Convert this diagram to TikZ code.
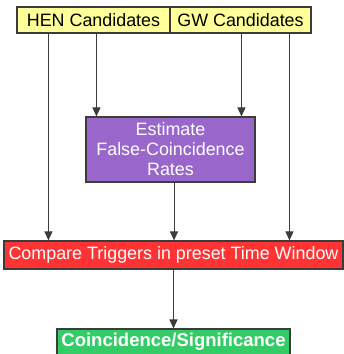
\documentclass[tikz,border=0pt]{standalone}
\usepackage{fontspec}
\setmainfont{Liberation Sans}
\usetikzlibrary{positioning,arrows.meta}

\definecolor{candfill}{RGB}{255,255,153}
\definecolor{estfill}{RGB}{153,102,204}
\definecolor{cmpfill}{RGB}{255,51,51}
\definecolor{resfill}{RGB}{51,204,102}
\definecolor{edgegray}{RGB}{60,60,60}

\tikzset{
  box/.style={draw=edgegray, line width=1.1pt, inner sep=0pt, align=center,
    font=\fontsize{17.9}{20}\selectfont},
  candbox/.style={box, fill=candfill, text=black, minimum height=26pt},
  estbox/.style={box, fill=estfill, text=white, minimum width=169pt, minimum height=65pt},
  cmpbox/.style={box, fill=cmpfill, text=white, minimum width=339pt, minimum height=28pt},
  resbox/.style={box, fill=resfill, text=white, minimum width=233pt, minimum height=26pt,
    font=\fontsize{18.5}{20}\selectfont\bfseries},
  flow/.style={draw=edgegray, line width=1pt, -{Triangle[length=9pt,width=8pt]}}
}

\begin{document}
\begin{tikzpicture}[x=1pt,y=-1pt]
\useasboundingbox (0,0) rectangle (344,354);

\node [candbox, minimum width=153pt] (hen) at (93.5,20) {HEN Candidates};
\node [candbox, minimum width=141pt] (gw) at (240.5,20) {GW Candidates};
\node [estbox] (est) at (170.5,149.5) {Estimate\\False-Coincidence\\Rates};
\node [cmpbox] (cmp) at (173.5,255) {Compare Triggers in preset Time Window};
\node [resbox] (res) at (173.5,342) {Coincidence/Significance};

\draw [flow] ([xshift=32pt]hen.south west) -- ([xshift=32pt]hen.south west |- cmp.north);
\draw [flow] ([xshift=80pt]hen.south west) -- ([xshift=80pt]hen.south west |- est.north);
\draw [flow] ([xshift=72pt]gw.south west) -- ([xshift=72pt]gw.south west |- est.north);
\draw [flow] ([xshift=120pt]gw.south west) -- ([xshift=120pt]gw.south west |- cmp.north);
\draw [flow] ([xshift=3.5pt]est.south) -- ([xshift=3.5pt]est.south |- cmp.north);
\draw [flow] ([yshift=1pt]cmp.south) -- (cmp.south |- res.north);
\end{tikzpicture}
\end{document}
